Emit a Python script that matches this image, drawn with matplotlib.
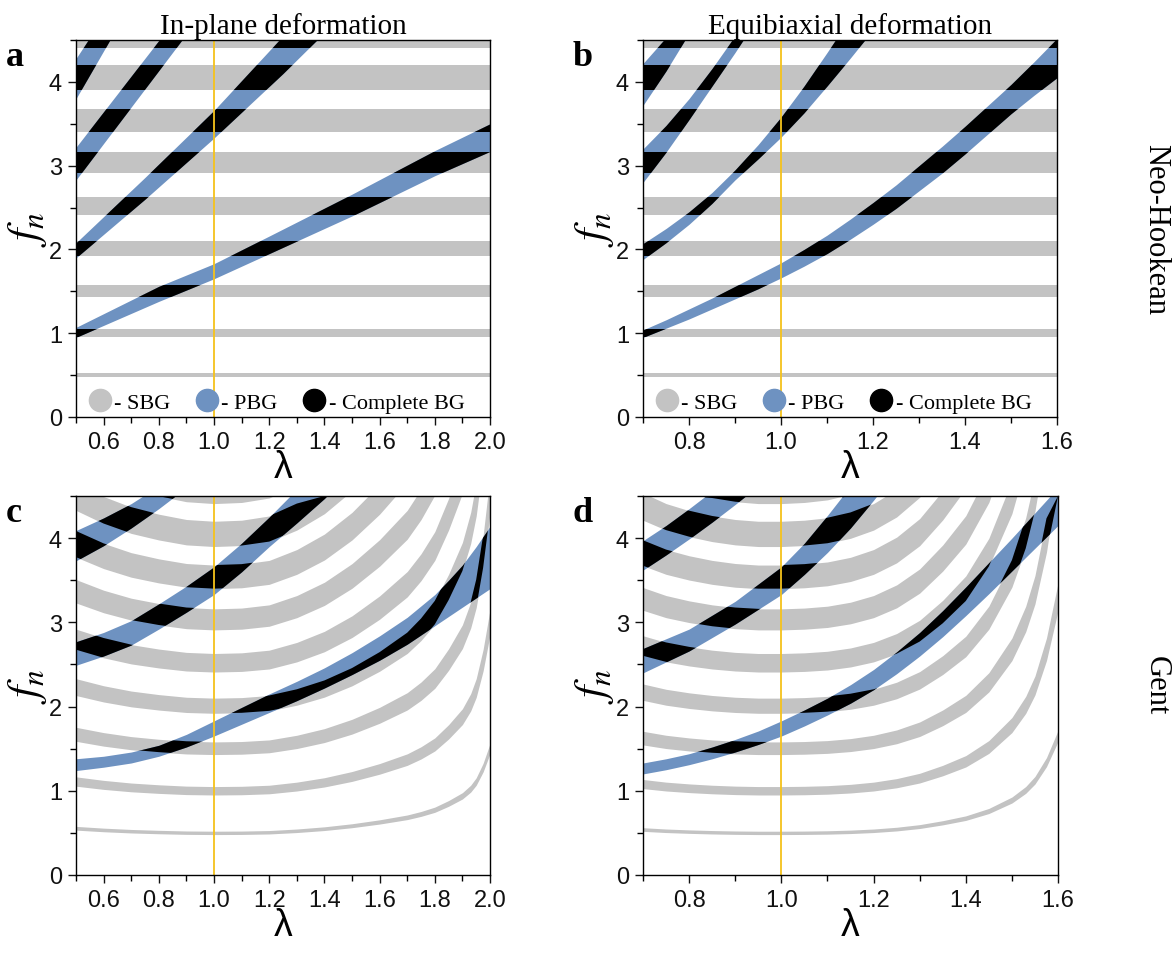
import numpy as np
import matplotlib
matplotlib.use('Agg')
import matplotlib.pyplot as plt
from matplotlib.lines import Line2D
from matplotlib.path import Path
from matplotlib.ticker import MultipleLocator, FormatStrFormatter

# ---------------- data ----------------
# Neo-Hookean shear band gaps (SBG): constant in lambda
sbg_nh_lower = [0.48, 0.95, 1.43, 1.92, 2.41, 2.91, 3.40, 3.90, 4.41]
sbg_nh_upper = [0.52, 1.05, 1.58, 2.10, 2.63, 3.16, 3.68, 4.20, 4.73]

# Gent model: SBG bands stiffen with stretch; factor
lam_c_sbg = [0.5, 0.6, 0.7, 0.8, 0.9, 1.0, 1.1, 1.2, 1.3, 1.4, 1.5, 1.6, 1.7,
             1.75, 1.8, 1.85, 1.9, 1.93, 1.95, 1.975, 2.0]
scale_c_sbg = [1.11, 1.07, 1.04, 1.02, 1.005, 1.0, 1.003, 1.015, 1.05, 1.10,
               1.17, 1.26, 1.37, 1.45, 1.55, 1.70, 1.88, 2.05, 2.22, 2.55, 3.0]
lam_d_sbg = [0.7, 0.75, 0.8, 0.85, 0.9, 0.95, 1.0, 1.05, 1.1, 1.15, 1.2, 1.25,
             1.3, 1.35, 1.4, 1.45, 1.5, 1.53, 1.55, 1.575, 1.6]
scale_d_sbg = [1.08, 1.05, 1.03, 1.015, 1.005, 1.0, 1.0, 1.003, 1.01, 1.025,
               1.05, 1.09, 1.15, 1.24, 1.35, 1.52, 1.78, 2.02, 2.25, 2.68, 3.3]

# Pressure band gaps (PBG): lower / upper edges of each band
pbg_a_lam = [[0.5, 0.8, 1.0, 1.2, 1.5, 1.8, 2.0],
             [0.5, 0.75, 1.0, 1.25, 1.45],
             [0.5, 0.7, 0.9, 1.0],
             [0.5, 0.6, 0.7]]
pbg_a_lower = [[0.95, 1.38, 1.65, 1.95, 2.40, 2.88, 3.17],
               [1.90, 2.60, 3.33, 4.10, 4.75],
               [2.83, 3.70, 4.57, 5.00],
               [3.80, 4.37, 4.94]]
pbg_a_upper = [[1.07, 1.56, 1.83, 2.16, 2.66, 3.18, 3.50],
               [2.08, 2.86, 3.66, 4.55, 5.20],
               [3.22, 4.07, 4.92, 5.35],
               [4.28, 4.78, 5.30]]

pbg_b_lam = [[0.7, 0.75, 0.8, 0.85, 0.9, 0.95, 1.0, 1.05, 1.1, 1.15, 1.2, 1.25,
              1.3, 1.35, 1.4, 1.45, 1.5, 1.55, 1.6],
             [0.7, 0.75, 0.8, 0.85, 0.9, 0.95, 1.0, 1.05, 1.1, 1.15, 1.2],
             [0.7, 0.75, 0.8, 0.85, 0.9, 0.95, 1.0],
             [0.7, 0.75, 0.8, 0.85]]
pbg_b_lower = [[0.95, 1.06, 1.17, 1.29, 1.41, 1.53, 1.66, 1.80, 1.95, 2.12,
                2.30, 2.49, 2.70, 2.91, 3.14, 3.38, 3.62, 3.84, 4.05],
               [1.88, 2.08, 2.30, 2.55, 2.83, 3.08, 3.34, 3.63, 3.95, 4.28, 4.62],
               [2.80, 3.16, 3.55, 3.95, 4.35, 4.77, 5.20],
               [3.72, 4.13, 4.58, 5.00]]
pbg_b_upper = [[1.04, 1.16, 1.29, 1.42, 1.56, 1.70, 1.84, 2.00, 2.17, 2.36,
                2.56, 2.77, 3.00, 3.23, 3.47, 3.72, 3.97, 4.24, 4.52],
               [2.07, 2.25, 2.45, 2.68, 2.95, 3.25, 3.58, 3.95, 4.35, 4.76, 5.20],
               [3.20, 3.48, 3.80, 4.16, 4.55, 4.92, 5.30],
               [4.22, 4.53, 4.85, 5.20]]

pbg_c_lam = [[0.5, 0.6, 0.7, 0.8, 0.9, 1.0, 1.1, 1.2, 1.3, 1.4, 1.5, 1.6, 1.7,
              1.8, 1.85, 1.9, 1.95, 2.0],
             [0.5, 0.6, 0.7, 0.8, 0.9, 1.0, 1.1, 1.2, 1.3, 1.4, 1.5],
             [0.5, 0.6, 0.7, 0.8, 0.9]]
pbg_c_lower = [[1.24, 1.28, 1.33, 1.41, 1.52, 1.65, 1.79, 1.93, 2.07, 2.22,
                2.38, 2.55, 2.74, 2.96, 3.07, 3.18, 3.29, 3.40],
               [2.49, 2.60, 2.73, 2.92, 3.12, 3.33, 3.60, 3.90, 4.18, 4.47, 4.80],
               [3.73, 3.91, 4.12, 4.35, 4.60]]
pbg_c_upper = [[1.38, 1.41, 1.46, 1.54, 1.67, 1.83, 1.99, 2.15, 2.30, 2.46,
                2.64, 2.84, 3.06, 3.33, 3.50, 3.68, 3.90, 4.14],
               [2.77, 2.88, 3.02, 3.22, 3.43, 3.66, 3.94, 4.25, 4.58, 4.95, 5.30],
               [4.09, 4.24, 4.41, 4.62, 4.85]]

pbg_d_lam = [[0.7, 0.75, 0.8, 0.85, 0.9, 0.95, 1.0, 1.05, 1.1, 1.15, 1.2, 1.25,
              1.3, 1.35, 1.4, 1.45, 1.5, 1.55, 1.6],
             [0.7, 0.8, 0.9, 1.0, 1.05, 1.1, 1.15, 1.2, 1.25],
             [0.7, 0.75, 0.8, 0.85, 0.9, 0.95]]
pbg_d_lower = [[1.20, 1.25, 1.31, 1.38, 1.46, 1.55, 1.65, 1.77, 1.90, 2.04,
                2.20, 2.39, 2.60, 2.83, 3.08, 3.34, 3.61, 3.88, 4.15],
               [2.40, 2.66, 2.98, 3.33, 3.57, 3.83, 4.12, 4.45, 4.80],
               [3.62, 3.80, 3.99, 4.19, 4.40, 4.62]]
pbg_d_upper = [[1.33, 1.38, 1.44, 1.52, 1.61, 1.71, 1.83, 1.96, 2.10, 2.26,
                2.44, 2.65, 2.88, 3.14, 3.42, 3.71, 4.00, 4.30, 4.60],
               [2.69, 2.92, 3.25, 3.66, 3.94, 4.27, 4.62, 4.95, 5.30],
               [3.97, 4.15, 4.35, 4.56, 4.78, 5.00]]

xlim_inplane = [0.5, 2.0]
xlim_equi = [0.7, 1.6]
ylim_all = [0.0, 4.5]
xticks_inplane = [0.6, 0.8, 1.0, 1.2, 1.4, 1.6, 1.8, 2.0]
xticks_equi = [0.8, 1.0, 1.2, 1.4, 1.6]
yticks_all = [0, 1, 2, 3, 4]
legend_labels = ['- SBG', '- PBG', '- Complete BG']

# ---------------- style ----------------
GRAY = '#c3c3c3'
BLUE = '#6e92c1'
BLACK = '#000000'
YELLOW = '#f5c21b'
plt.rcParams['font.family'] = ['Liberation Sans', 'DejaVu Sans']
plt.rcParams['mathtext.fontset'] = 'stix'
SERIF = ['Liberation Serif', 'DejaVu Serif']

fig = plt.figure(figsize=(11.73, 9.54), dpi=100)
W, H = 1173.0, 954.0
def add_ax(l, t, r, b):
    return fig.add_axes([l / W, 1 - b / H, (r - l) / W, (b - t) / H])

ax_a = add_ax(76, 41, 490, 418)
ax_b = add_ax(643, 41, 1057, 418)
ax_c = add_ax(76, 497, 490, 876)
ax_d = add_ax(643, 497, 1058, 876)


def visible_band(x, lo, hi, ytop):
    """Outline of a band, cut at the top of the axes (used as a clip shape)."""
    x = np.asarray(x, float)
    lo = np.minimum(np.broadcast_to(np.asarray(lo, float), x.shape), ytop)
    hi = np.minimum(np.broadcast_to(np.asarray(hi, float), x.shape), ytop)
    verts = np.concatenate([np.column_stack([x, lo]),
                            np.column_stack([x[::-1], hi[::-1]]),
                            [[x[0], lo[0]]]])
    return Path(verts, closed=True)


def draw(ax, xlim, xticks, sbg_lam, sbg_lo, sbg_hi, p_lam, p_lo, p_hi, legend):
    ytop = ylim_all[1]
    clip_shapes = []
    for lo, hi in zip(sbg_lo, sbg_hi):
        ax.fill_between(sbg_lam, lo, hi, color=GRAY, lw=0, zorder=1)
        clip_shapes.append(visible_band(sbg_lam, lo, hi, ytop))
    for lam, lo, hi in zip(p_lam, p_lo, p_hi):
        ax.fill_between(lam, lo, hi, color=BLUE, lw=0, zorder=2)
        for shape in clip_shapes:
            blk = ax.fill_between(lam, lo, hi, color=BLACK, lw=0, zorder=3)
            blk.set_clip_path(shape, ax.transData)
    ax.axvline(1.0, color=YELLOW, lw=1.3, zorder=4)
    ax.set_xlim(xlim)
    ax.set_ylim(ylim_all)
    ax.set_xticks(xticks)
    ax.xaxis.set_major_formatter(FormatStrFormatter('%.1f'))
    ax.xaxis.set_minor_locator(MultipleLocator(0.1))
    ax.set_yticks(yticks_all)
    ax.yaxis.set_minor_locator(MultipleLocator(0.5))
    ax.tick_params(which='major', direction='out', length=6, width=1,
                   labelsize=17, pad=4, colors='#111111')
    ax.tick_params(which='minor', direction='out', length=4, width=1)
    for s in ax.spines.values():
        s.set_linewidth(1.0)
        s.set_zorder(6)
    ax.set_xlabel('λ', fontsize=27, labelpad=-3)
    ax.set_ylabel('$f_n$', fontsize=32, labelpad=0)
    if legend:
        handles = [Line2D([], [], ls='none', marker='o', ms=16, mfc=c, mec=c)
                   for c in (GRAY, BLUE, BLACK)]
        ax.legend(handles, legend_labels, loc='lower left',
                  bbox_to_anchor=(-0.018, -0.025), ncol=3, frameon=False,
                  prop={'family': SERIF, 'size': 16}, handletextpad=-0.15,
                  columnspacing=0.85, handlelength=1.6, borderaxespad=0.2)


nh_lo_a = [[v, v] for v in sbg_nh_lower]
nh_hi_a = [[v, v] for v in sbg_nh_upper]
draw(ax_a, xlim_inplane, xticks_inplane, xlim_inplane, nh_lo_a, nh_hi_a,
     pbg_a_lam, pbg_a_lower, pbg_a_upper, True)
draw(ax_b, xlim_equi, xticks_equi, xlim_equi, nh_lo_a, nh_hi_a,
     pbg_b_lam, pbg_b_lower, pbg_b_upper, True)

sc_c = np.array(scale_c_sbg)
sc_d = np.array(scale_d_sbg)
gent_lo_c = [sc_c * v for v in sbg_nh_lower]
gent_hi_c = [sc_c * v for v in sbg_nh_upper]
gent_lo_d = [sc_d * v for v in sbg_nh_lower]
gent_hi_d = [sc_d * v for v in sbg_nh_upper]
draw(ax_c, xlim_inplane, xticks_inplane, lam_c_sbg, gent_lo_c, gent_hi_c,
     pbg_c_lam, pbg_c_lower, pbg_c_upper, False)
draw(ax_d, xlim_equi, xticks_equi, lam_d_sbg, gent_lo_d, gent_hi_d,
     pbg_d_lam, pbg_d_lower, pbg_d_upper, False)

ax_a.set_title('In-plane deformation', family=SERIF, fontsize=21, pad=5)
ax_b.set_title('Equibiaxial deformation', family=SERIF, fontsize=21, pad=5)

for ax, letter in ((ax_a, 'a'), (ax_b, 'b'), (ax_c, 'c'), (ax_d, 'd')):
    ax.text(-0.17, 1.0, letter, transform=ax.transAxes, family=SERIF,
            fontsize=26, fontweight='bold', va='top', ha='left')

fig.text(1156 / W, 1 - 230 / H, 'Neo-Hookean', family=SERIF, fontsize=22,
         rotation=270, ha='center', va='center')
fig.text(1156 / W, 1 - 686 / H, 'Gent', family=SERIF, fontsize=22,
         rotation=270, ha='center', va='center')

fig.savefig('out.png', dpi=100)
